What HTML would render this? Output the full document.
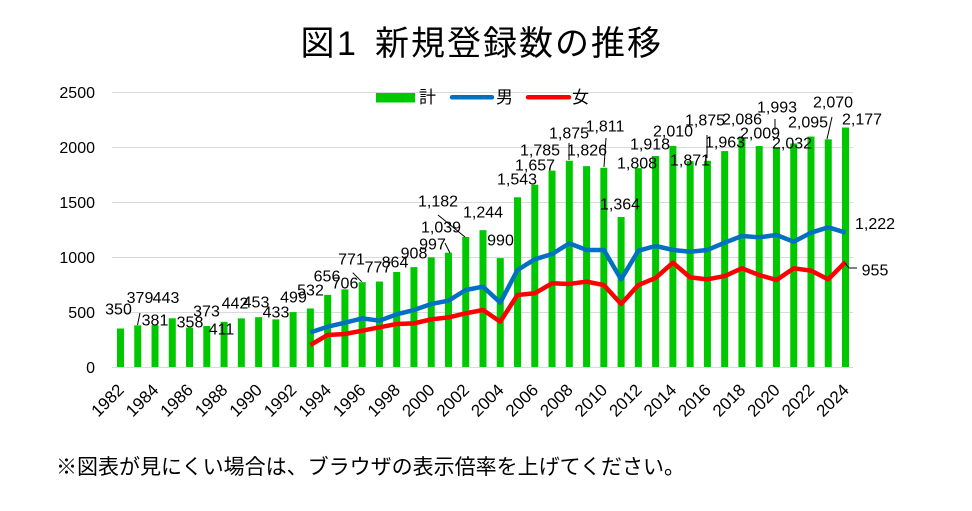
<!DOCTYPE html>
<html><head><meta charset="utf-8"><style>
html,body{margin:0;padding:0;background:#fff;}
svg{display:block;}
.n{font-family:"Liberation Sans",sans-serif;font-size:16px;fill:#000;}
.x{font-family:"Liberation Sans",sans-serif;font-size:17px;fill:#000;}
.j{font-family:"Liberation Sans","Noto Sans CJK JP",sans-serif;fill:#000;}
</style></head><body>
<svg width="972" height="511" viewBox="0 0 972 511" xmlns="http://www.w3.org/2000/svg">
<rect width="972" height="511" fill="#fff"/>
<!-- title -->
<text class="j" x="300.5" y="55" font-size="34">図</text>
<text class="j" x="337" y="55" font-size="34">1</text>
<text class="j" x="375" y="55" font-size="34" textLength="286" lengthAdjust="spacing">新規登録数の推移</text>
<!-- gridlines -->
<g stroke="#d9d9d9" stroke-width="1">
<line x1="112" y1="92.5" x2="853" y2="92.5"/>
<line x1="112" y1="147.5" x2="853" y2="147.5"/>
<line x1="112" y1="202.5" x2="853" y2="202.5"/>
<line x1="112" y1="257.5" x2="853" y2="257.5"/>
<line x1="112" y1="312.5" x2="853" y2="312.5"/>
<line x1="112" y1="367.5" x2="853" y2="367.5"/>
</g>
<!-- y labels -->
<g class="n" text-anchor="end">
<text x="95" y="98">2500</text>
<text x="95" y="153">2000</text>
<text x="95" y="208">1500</text>
<text x="95" y="263">1000</text>
<text x="95" y="318">500</text>
<text x="95" y="373">0</text>
</g>
<!-- legend -->
<rect x="376" y="93" width="39" height="9.5" fill="#00c800"/>
<text class="j" x="419" y="103" font-size="17">計</text>
<line x1="452" y1="97.3" x2="492" y2="97.3" stroke="#0070c0" stroke-width="4.5" stroke-linecap="round"/>
<text class="j" x="496" y="103" font-size="17">男</text>
<line x1="528" y1="97.3" x2="569" y2="97.3" stroke="#ff0000" stroke-width="4.5" stroke-linecap="round"/>
<text class="j" x="572" y="103" font-size="17">女</text>
<!-- bars -->
<g fill="#00c800">
<rect x="117.0" y="328.5" width="7" height="38.5"/>
<rect x="134.26" y="325.31" width="7" height="41.69"/>
<rect x="151.52" y="325.09" width="7" height="41.91"/>
<rect x="168.79" y="318.27" width="7" height="48.73"/>
<rect x="186.05" y="327.62" width="7" height="39.38"/>
<rect x="203.31" y="325.97" width="7" height="41.03"/>
<rect x="220.57" y="321.79" width="7" height="45.21"/>
<rect x="237.83" y="318.38" width="7" height="48.62"/>
<rect x="255.1" y="317.17" width="7" height="49.83"/>
<rect x="272.36" y="319.37" width="7" height="47.63"/>
<rect x="289.62" y="312.11" width="7" height="54.89"/>
<rect x="306.88" y="308.48" width="7" height="58.52"/>
<rect x="324.14" y="294.84" width="7" height="72.16"/>
<rect x="341.41" y="289.34" width="7" height="77.66"/>
<rect x="358.67" y="282.19" width="7" height="84.81"/>
<rect x="375.93" y="281.53" width="7" height="85.47"/>
<rect x="393.19" y="271.96" width="7" height="95.04"/>
<rect x="410.45" y="267.12" width="7" height="99.88"/>
<rect x="427.72" y="257.33" width="7" height="109.67"/>
<rect x="444.98" y="252.71" width="7" height="114.29"/>
<rect x="462.24" y="236.98" width="7" height="130.02"/>
<rect x="479.5" y="230.16" width="7" height="136.84"/>
<rect x="496.76" y="258.1" width="7" height="108.9"/>
<rect x="514.03" y="197.27" width="7" height="169.73"/>
<rect x="531.29" y="184.73" width="7" height="182.27"/>
<rect x="548.55" y="170.65" width="7" height="196.35"/>
<rect x="565.81" y="160.75" width="7" height="206.25"/>
<rect x="583.07" y="166.14" width="7" height="200.86"/>
<rect x="600.34" y="167.79" width="7" height="199.21"/>
<rect x="617.6" y="216.96" width="7" height="150.04"/>
<rect x="634.86" y="168.12" width="7" height="198.88"/>
<rect x="652.12" y="156.02" width="7" height="210.98"/>
<rect x="669.38" y="145.9" width="7" height="221.1"/>
<rect x="686.65" y="161.19" width="7" height="205.81"/>
<rect x="703.91" y="160.75" width="7" height="206.25"/>
<rect x="721.17" y="151.07" width="7" height="215.93"/>
<rect x="738.43" y="137.54" width="7" height="229.46"/>
<rect x="755.69" y="146.01" width="7" height="220.99"/>
<rect x="772.96" y="147.77" width="7" height="219.23"/>
<rect x="790.22" y="143.48" width="7" height="223.52"/>
<rect x="807.48" y="136.55" width="7" height="230.45"/>
<rect x="824.74" y="139.3" width="7" height="227.7"/>
<rect x="842.0" y="127.53" width="7" height="239.47"/>
</g>
<!-- lines -->
<polyline fill="none" stroke="#0070c0" stroke-width="4.5" stroke-linejoin="round" points="310.38,332.35 327.64,326.74 344.91,322.67 362.17,318.38 379.43,320.69 396.69,314.31 413.95,310.02 431.22,303.97 448.48,300.67 465.74,290 483,286.7 500.26,302.65 517.53,269.98 534.79,259.31 552.05,254.03 569.31,243.36 586.57,249.96 603.84,249.96 621.1,279.33 638.36,250.73 655.62,246 672.88,249.96 690.15,251.72 707.41,249.96 724.67,242.7 741.93,235.99 759.19,237.31 776.46,235 793.72,241.71 810.98,232.69 828.24,227.3 845.5,232.58"/>
<polyline fill="none" stroke="#ff0000" stroke-width="4.5" stroke-linejoin="round" points="310.38,345 327.64,334.99 344.91,334 362.17,330.7 379.43,327.29 396.69,323.99 413.95,323.33 431.22,319.37 448.48,317.39 465.74,313.32 483,310.02 500.26,321.68 517.53,294.95 534.79,293.3 552.05,283.29 569.31,283.95 586.57,281.64 603.84,285.05 621.1,303.97 638.36,285.05 655.62,277.9 672.88,262.72 690.15,277.35 707.41,279.33 724.67,276.03 741.93,268.33 759.19,275.04 776.46,279.99 793.72,268.33 810.98,270.64 828.24,279.33 845.5,261.95"/>
<!-- leader lines -->
<g stroke="#000" stroke-width="1" fill="none">
<line x1="137.5" y1="325" x2="140" y2="313"/>
<line x1="352.7" y1="272.7" x2="361.7" y2="281.7"/>
<line x1="445" y1="243" x2="450" y2="253"/>
<line x1="438" y1="215" x2="465" y2="237"/>
<line x1="569" y1="143" x2="569" y2="160"/>
<line x1="606" y1="138" x2="604" y2="167"/>
<line x1="707" y1="135" x2="707" y2="158"/>
<line x1="775" y1="119" x2="775" y2="130"/>
<line x1="832" y1="117" x2="827" y2="139"/>
<polyline points="845,263 849,268 857,268"/>
</g>
<!-- data labels -->
<g class="n" text-anchor="middle">
<text x="118.5" y="314.5">350</text>
<text x="140" y="303">379</text>
<text x="155" y="325.5">381</text>
<text x="166" y="303">443</text>
<text x="190" y="327.5">358</text>
<text x="206.5" y="316.5">373</text>
<text x="221.5" y="334.5">411</text>
<text x="235" y="308.5">442</text>
<text x="256" y="307.5">453</text>
<text x="276" y="317.5">433</text>
<text x="293.5" y="302.5">499</text>
<text x="310.5" y="295.5">532</text>
<text x="327" y="281.5">656</text>
<text x="345" y="288.5">706</text>
<text x="351.5" y="264.5">771</text>
<text x="378" y="272.5">777</text>
<text x="395" y="267.5">864</text>
<text x="414" y="258.5">908</text>
<text x="432.5" y="249.5">997</text>
<text x="441" y="232.5">1,039</text>
<text x="438" y="206.5">1,182</text>
<text x="483" y="217.5">1,244</text>
<text x="500.5" y="245.5">990</text>
<text x="517" y="184.5">1,543</text>
<text x="535" y="170.5">1,657</text>
<text x="540" y="155.5">1,785</text>
<text x="569" y="138.5">1,875</text>
<text x="587" y="155.5">1,826</text>
<text x="605" y="131.5">1,811</text>
<text x="620" y="209.5">1,364</text>
<text x="637" y="168.5">1,808</text>
<text x="650" y="149.5">1,918</text>
<text x="673" y="136.5">2,010</text>
<text x="690" y="165.5">1,871</text>
<text x="705" y="125.5">1,875</text>
<text x="725" y="147.5">1,963</text>
<text x="742" y="124.5">2,086</text>
<text x="760" y="138.5">2,009</text>
<text x="777" y="112.5">1,993</text>
<text x="792" y="148.5">2,032</text>
<text x="808" y="127.5">2,095</text>
<text x="833" y="107.5">2,070</text>
<text x="862" y="124.5">2,177</text>
<text x="875" y="229">1,222</text>
<text x="875" y="275.5">955</text>
</g>
<!-- x labels -->
<g class="x" text-anchor="end">
<text transform="translate(125,391) rotate(-45)">1982</text>
<text transform="translate(159.52,391) rotate(-45)">1984</text>
<text transform="translate(194.05,391) rotate(-45)">1986</text>
<text transform="translate(228.57,391) rotate(-45)">1988</text>
<text transform="translate(263.1,391) rotate(-45)">1990</text>
<text transform="translate(297.62,391) rotate(-45)">1992</text>
<text transform="translate(332.14,391) rotate(-45)">1994</text>
<text transform="translate(366.67,391) rotate(-45)">1996</text>
<text transform="translate(401.19,391) rotate(-45)">1998</text>
<text transform="translate(435.72,391) rotate(-45)">2000</text>
<text transform="translate(470.24,391) rotate(-45)">2002</text>
<text transform="translate(504.76,391) rotate(-45)">2004</text>
<text transform="translate(539.29,391) rotate(-45)">2006</text>
<text transform="translate(573.81,391) rotate(-45)">2008</text>
<text transform="translate(608.34,391) rotate(-45)">2010</text>
<text transform="translate(642.86,391) rotate(-45)">2012</text>
<text transform="translate(677.38,391) rotate(-45)">2014</text>
<text transform="translate(711.91,391) rotate(-45)">2016</text>
<text transform="translate(746.43,391) rotate(-45)">2018</text>
<text transform="translate(780.96,391) rotate(-45)">2020</text>
<text transform="translate(815.48,391) rotate(-45)">2022</text>
<text transform="translate(850,391) rotate(-45)">2024</text>
</g>
<!-- note -->
<text class="j" x="56" y="474" font-size="21" textLength="629" lengthAdjust="spacing">※図表が見にくい場合は、ブラウザの表示倍率を上げてください。</text>
</svg>
</body></html>
